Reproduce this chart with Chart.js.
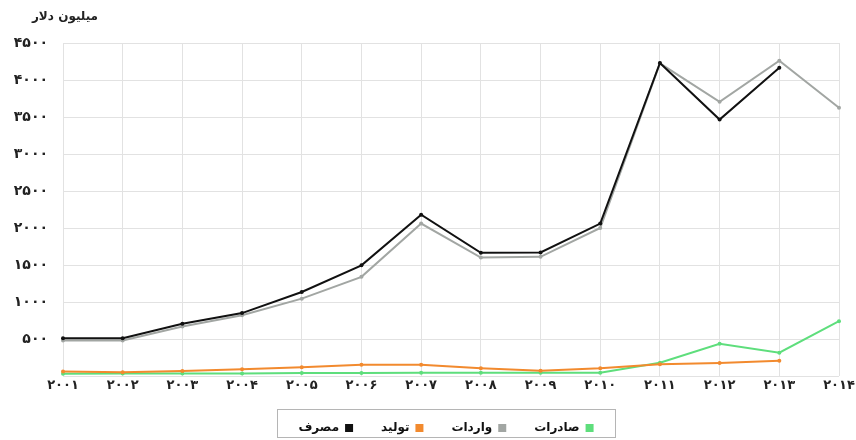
<!DOCTYPE html>
<html lang="fa">
<head>
<meta charset="utf-8">
<title>میلیون دلار</title>
<script src="https://cdn.jsdelivr.net/npm/chart.js@4/dist/chart.umd.min.js"></script>
<style>
  html, body { margin: 0; padding: 0; background: #fff; }
  #wrap { width: 856px; height: 440px; }
</style>
</head>
<body>
<div id="wrap"><canvas id="c" width="856" height="440"></canvas></div>
<script>
// Years on the horizontal axis (Persian digits)
const years = ['۲۰۰۱', '۲۰۰۲', '۲۰۰۳', '۲۰۰۴', '۲۰۰۵', '۲۰۰۶', '۲۰۰۷',
               '۲۰۰۸', '۲۰۰۹', '۲۰۱۰', '۲۰۱۱', '۲۰۱۲', '۲۰۱۳', '۲۰۱۴'];

// Vertical axis labels, one per 500 step (zero is left blank)
const yTickLabels = ['', '۵۰۰', '۱۰۰۰', '۱۵۰۰', '۲۰۰۰', '۲۵۰۰', '۳۰۰۰', '۳۵۰۰', '۴۰۰۰', '۴۵۰۰'];
const yStep = 500;
const yMax = 4500;

const unitLabel = 'میلیون دلار';

// Series values, million dollars
const consumption = [510, 510, 705, 850, 1135, 1495, 2180, 1665, 1670, 2060, 4230, 3465, 4165, null];
const production  = [60, 52, 68, 90, 117, 153, 153, 105, 70, 105, 160, 175, 205, null];
const imports     = [480, 480, 670, 820, 1045, 1340, 2060, 1600, 1610, 2000, 4225, 3705, 4260, 3625];
const exportsVal  = [30, 35, 35, 35, 40, 40, 45, 45, 45, 45, 180, 435, 315, 740];

const seriesNames = ['مصرف', 'تولید', 'واردات', 'صادرات'];
const seriesColors = ['#111111', '#f28a2e', '#a2a6a3', '#5ede7c'];
const seriesData = [consumption, production, imports, exportsVal];

const FONT = '"DejaVu Sans", sans-serif';

// Places the legend row under the axis and frames it with a thin box
const legendPlacement = {
  id: 'legendPlacement',
  afterLayout(chart) {
    const lg = chart.legend;
    if (!lg) return;
    const pad = lg.options.labels.padding;
    lg.top = 422 - pad;
    lg.bottom = 440;
    const w = lg.right - lg.left;
    lg.left = 446 - w / 2;
    lg.right = lg.left + w;
  },
  afterDraw(chart) {
    const lg = chart.legend;
    if (!lg || !lg.lineWidths) return;
    const pad = lg.options.labels.padding;
    const span = lg.lineWidths[0] - pad;
    const cx = (lg.left + lg.right) / 2;
    const ctx = chart.ctx;
    ctx.save();
    ctx.strokeStyle = '#b5b5b5';
    ctx.lineWidth = 1;
    ctx.strokeRect(Math.round(cx - span / 2 - 21) + 0.5, 409.5, Math.round(span + 43), 28);
    ctx.restore();
  }
};

// Unit caption in the top-left corner
const unitTitle = {
  id: 'unitTitle',
  afterDraw(chart) {
    const ctx = chart.ctx;
    ctx.save();
    ctx.font = 'bold 12px ' + FONT;
    ctx.fillStyle = '#222';
    ctx.textAlign = 'center';
    ctx.textBaseline = 'middle';
    ctx.fillText(unitLabel, 65, 17);
    ctx.restore();
  }
};

const datasets = seriesNames.map((name, i) => ({
  label: name,
  data: seriesData[i],
  borderColor: seriesColors[i],
  backgroundColor: seriesColors[i],
  pointBackgroundColor: seriesColors[i],
  pointBorderColor: seriesColors[i],
  borderWidth: 2,
  pointRadius: 2,
  pointBorderWidth: 0,
  tension: 0,
  clip: false
}));

new Chart(document.getElementById('c'), {
  type: 'line',
  data: { labels: years, datasets },
  plugins: [legendPlacement, unitTitle],
  options: {
    responsive: false,
    animation: false,
    layout: { padding: { left: 0, right: 17, top: 43, bottom: 0 } },
    plugins: {
      tooltip: { enabled: false },
      title: { display: false },
      legend: {
        position: 'bottom',
        rtl: true,
        reverse: true,
        maxHeight: 40,
        labels: {
          boxWidth: 8,
          boxHeight: 8,
          padding: 28,
          color: '#111',
          font: { family: FONT, size: 12, weight: 'bold' },
          generateLabels(chart) {
            const items = Chart.defaults.plugins.legend.labels.generateLabels(chart);
            items.forEach(it => { it.lineWidth = 0; });
            return items;
          }
        }
      }
    },
    scales: {
      x: {
        type: 'category',
        offset: false,
        grid: { color: '#e2e2e2', lineWidth: 1, drawTicks: false },
        border: { display: false },
        ticks: {
          color: '#222',
          font: { family: FONT, size: 13, weight: 'bold' },
          padding: 2,
          maxRotation: 0,
          autoSkip: false
        },
        afterFit(s) { s.height = 24; s.paddingLeft = 0; s.paddingRight = 0; }
      },
      y: {
        min: 0,
        max: yMax,
        grid: { color: '#e2e2e2', lineWidth: 1, drawTicks: false },
        border: { display: false },
        ticks: {
          stepSize: yStep,
          padding: 15,
          color: '#222',
          font: { family: FONT, size: 14, weight: 'bold' },
          callback: (v) => yTickLabels[Math.round(v / yStep)] ?? ''
        },
        afterFit(s) { s.width = 63; }
      }
    }
  }
});
</script>
</body>
</html>
